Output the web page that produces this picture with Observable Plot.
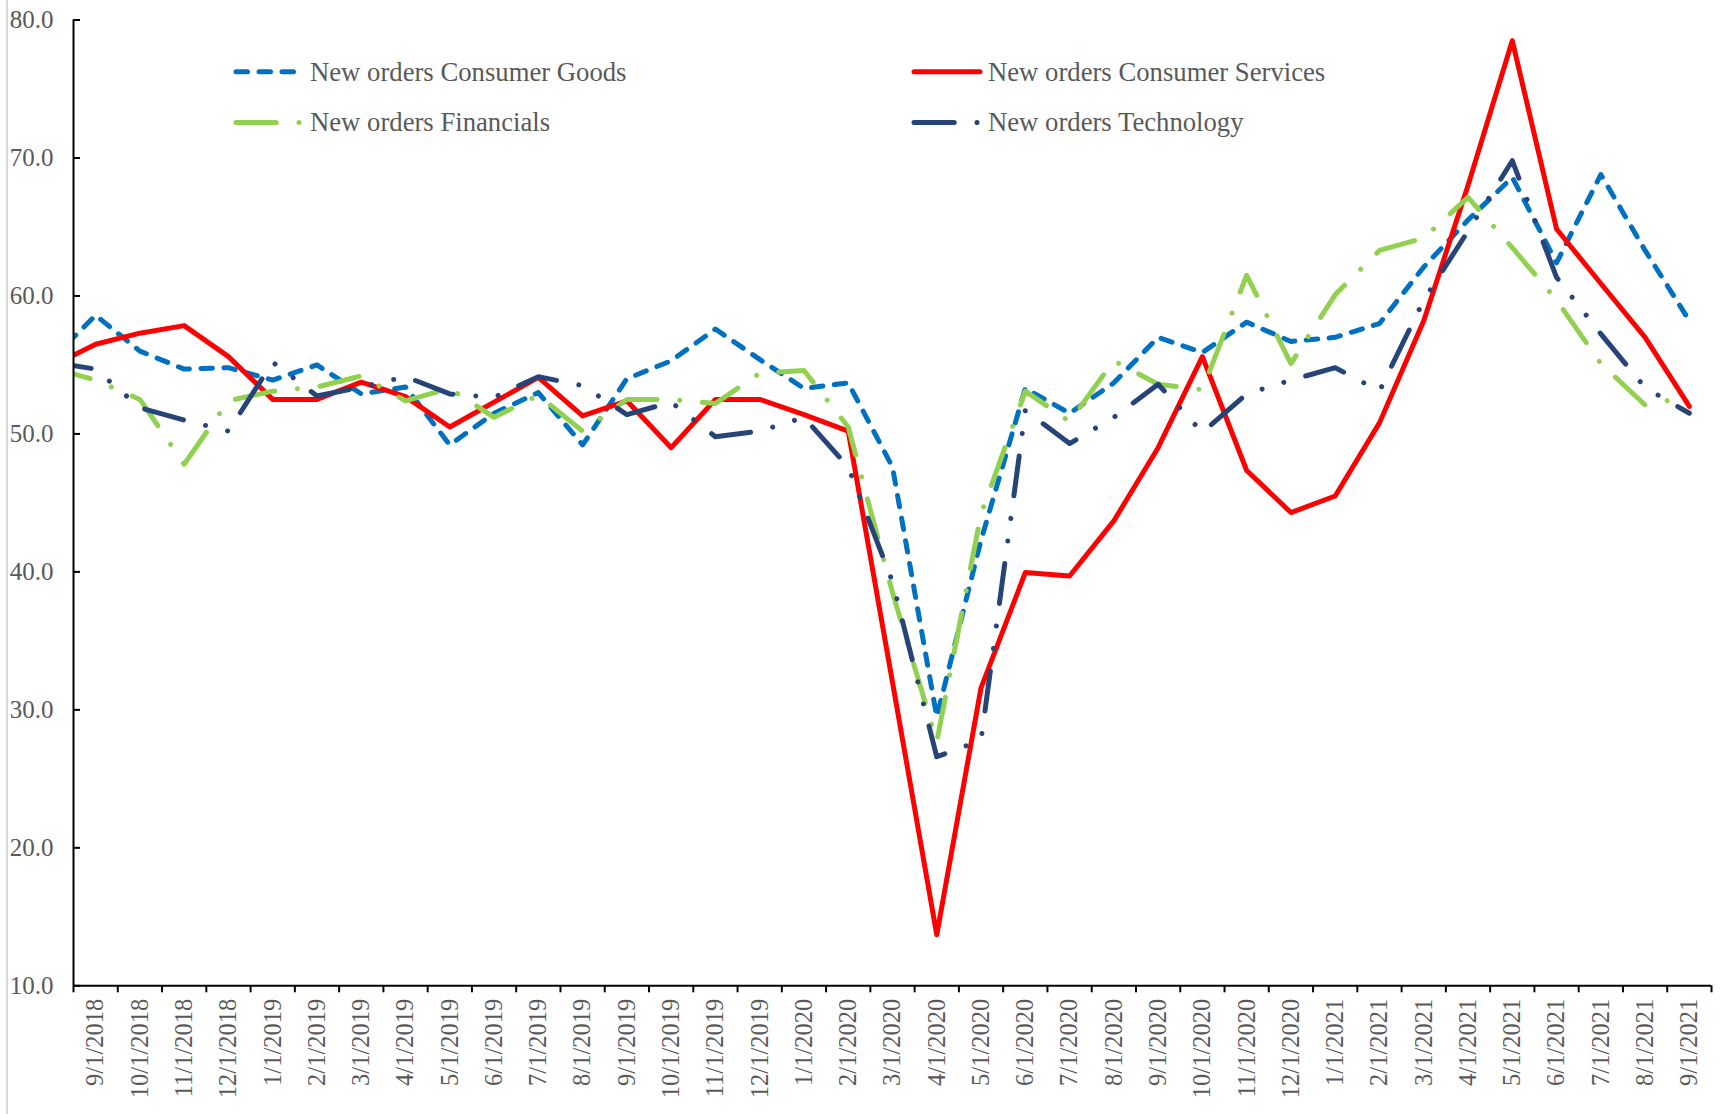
<!DOCTYPE html>
<html><head><meta charset="utf-8">
<script src="https://cdn.jsdelivr.net/npm/d3@7"></script>
<script src="https://cdn.jsdelivr.net/npm/@observablehq/plot@0.6"></script>
<style>
html,body{margin:0;padding:0;background:#fff;}
#wrap{position:relative;width:1726px;height:1114px;overflow:hidden;background:#fff;}
#border{position:absolute;left:6px;top:0;width:2px;height:1114px;background:#d9d9d9;}
#wrap svg{position:absolute;left:0;top:0;}
</style></head><body>
<div id="wrap"><div id="border"></div></div>
<script>
// Category labels (first entry is the lead-in month that sits just outside the axis and is clipped)
const months = ["8/1/2018","9/1/2018","10/1/2018","11/1/2018","12/1/2018",
  "1/1/2019","2/1/2019","3/1/2019","4/1/2019","5/1/2019","6/1/2019","7/1/2019","8/1/2019","9/1/2019","10/1/2019","11/1/2019","12/1/2019",
  "1/1/2020","2/1/2020","3/1/2020","4/1/2020","5/1/2020","6/1/2020","7/1/2020","8/1/2020","9/1/2020","10/1/2020","11/1/2020","12/1/2020",
  "1/1/2021","2/1/2021","3/1/2021","4/1/2021","5/1/2021","6/1/2021","7/1/2021","8/1/2021","9/1/2021"];

const seriesNames = ["New orders Consumer Goods","New orders Consumer Services","New orders Financials","New orders Technology"];

const consumerGoods = [55.4, 58.6, 56.0, 54.7, 54.8, 53.9, 55.0, 52.9, 53.4, 49.2, 51.5, 53.0, 49.2, 54.0, 55.3, 57.6, 55.4, 53.3, 53.7, 47.6, 29.5, 42.3, 53.3, 51.5, 53.7, 57.0, 55.9, 58.1, 56.7, 57.0, 58.0, 62.1, 65.5, 68.6, 62.4, 68.8, 63.3, 58.2];
const consumerServices = [54.9, 56.5, 57.3, 57.85, 55.6, 52.5, 52.5, 53.75, 52.7, 50.5, 52.3, 54.1, 51.3, 52.4, 49.0, 52.5, 52.5, 51.4, 50.2, 32.0, 13.7, 31.6, 39.95, 39.7, 43.7, 49.0, 55.6, 47.35, 44.3, 45.5, 50.8, 58.2, 68.0, 78.5, 64.85, 60.9, 57.0, 52.0];
const financials = [54.8, 53.9, 52.5, 47.8, 52.4, 53.1, 53.4, 54.2, 52.4, 53.3, 51.2, 52.8, 50.2, 52.5, 52.5, 52.2, 54.4, 54.6, 50.5, 38.5, 27.7, 44.2, 53.1, 50.9, 55.3, 53.6, 53.2, 61.5, 55.1, 60.1, 63.3, 64.2, 67.15, 63.5, 59.7, 55.1, 52.1, 52.7];
const technology = [55.2, 54.7, 51.9, 51.0, 50.2, 55.2, 52.75, 53.4, 54.15, 52.9, 52.65, 54.15, 53.5, 51.4, 52.3, 49.8, 50.2, 51.2, 47.6, 39.3, 26.6, 27.8, 51.7, 49.3, 51.2, 53.6, 50.1, 52.9, 53.9, 54.8, 53.1, 59.7, 64.7, 69.8, 61.35, 57.25, 53.35, 51.5];

const yTicks = [10, 20, 30, 40, 50, 60, 70, 80];

// styles
const styles = {
  "New orders Consumer Goods":    {stroke: "#0070C0", dash: "11.5 11.5"},
  "New orders Consumer Services": {stroke: "#FF0000", dash: null},
  "New orders Financials":        {stroke: "#92D050", dash: "40.25 22.75 0.01 22.75"},
  "New orders Technology":        {stroke: "#264478", dash: "40.25 22.75 0.01 22.75 0.01 22.75"}
};
const LW = 5;

const valueLists = [consumerGoods, consumerServices, financials, technology];
const rows = [];
seriesNames.forEach((name, k) => valueLists[k].forEach((v, i) => rows.push({series: name, i, v})));

const xDomain = [0.5, months.length - 0.5];
const labelIdx = d3.range(1, months.length);
const bounds = d3.range(0.5, months.length, 1);

const lineMarks = seriesNames.map(name => Plot.line(rows.filter(r => r.series === name), {
  x: "i", y: "v", stroke: styles[name].stroke, strokeWidth: LW,
  strokeDasharray: styles[name].dash, strokeLinecap: "round",
  strokeLinejoin: "round", clip: true
}));

const chart = Plot.plot({
  width: 1726, height: 1114,
  marginLeft: 73, marginRight: 15, marginTop: 19.5, marginBottom: 128.7,
  style: {fontFamily: "'Liberation Serif','Times New Roman',serif", fontSize: "24px", background: "transparent", overflow: "visible"},
  x: {type: "linear", domain: xDomain},
  y: {domain: [yTicks[0], yTicks[yTicks.length - 1]]},
  marks: [
    ...lineMarks,
    Plot.ruleX([xDomain[0]], {stroke: "#000", strokeWidth: 2}),
    Plot.ruleY([yTicks[0]], {stroke: "#000", strokeWidth: 2}),
    Plot.axisY({ticks: yTicks, tickSize: -7, stroke: "#000", strokeWidth: 2, tickFormat: () => "", label: null}),
    Plot.axisY({ticks: yTicks, tickSize: 0, tickPadding: 20, tickFormat: d => d.toFixed(1), fill: "#595959", label: null, fontSize: 25}),
    Plot.axisX({ticks: bounds, tickSize: 7, stroke: "#000", strokeWidth: 2, tickFormat: () => "", label: null}),
    Plot.axisX({ticks: labelIdx, tickSize: 0, tickPadding: 13, tickRotate: -90, tickFormat: i => months[i], fill: "#595959", label: null, fontSize: 24.5})
  ]
});
document.getElementById("wrap").appendChild(chart);

// Legend overlay (inside the plot area, two rows x two columns)
const legendLayout = [
  {name: seriesNames[0], x0: 236, x1: 294, tx: 310, y: 71.7},
  {name: seriesNames[1], x0: 914, x1: 980, tx: 988, y: 71.7},
  {name: seriesNames[2], x0: 236, x1: 300, tx: 310, y: 122.5},
  {name: seriesNames[3], x0: 914, x1: 979, tx: 988, y: 122.5}
];
const leg = d3.select("#wrap").append("svg").attr("width", 1726).attr("height", 200)
  .style("font-family", "'Liberation Serif','Times New Roman',serif");
legendLayout.forEach(d => {
  const s = styles[d.name];
  leg.append("line").attr("x1", d.x0).attr("x2", d.x1).attr("y1", d.y).attr("y2", d.y)
    .attr("stroke", s.stroke).attr("stroke-width", LW).attr("stroke-linecap", "round")
    .attr("stroke-dasharray", s.dash);
  leg.append("text").attr("x", d.tx).attr("y", d.y + 8.8).attr("font-size", 26.7).attr("fill", "#595959").text(d.name);
});
</script>
</body></html>
